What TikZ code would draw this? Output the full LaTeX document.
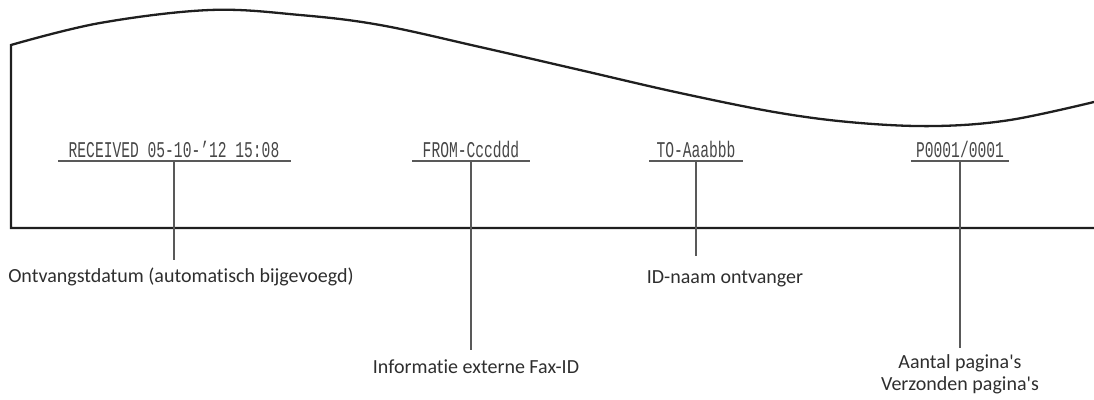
\documentclass[tikz,border=0pt]{standalone}
\usepackage{fontspec}
\setmainfont{Carlito}[Ligatures={TeXOff,CommonOff}]
\newfontfamily\faxmono{Liberation Mono}
\begin{document}
\begin{tikzpicture}[x=1pt,y=-1pt,
  paper/.style={line width=2.3pt, black!88, line join=miter},
  uline/.style={line width=1.2pt, black!65},
  leader/.style={line width=1.2pt, black!65},
  faxtext/.style={inner sep=0pt, anchor=base, text=black!72, font=\faxmono\fontsize{22.5}{22.5}\selectfont},
  lbl/.style={inner sep=0pt, anchor=base, text=black!82, font=\fontsize{20}{22}\selectfont, align=center}
]
\useasboundingbox (0,0) rectangle (1094,399);
% paper outline
\draw[paper] (1094,228) -- (11,228) -- plot[smooth, tension=0.6] coordinates {(11,45) (100,23) (210,10) (300,15) (380,25) (480,47) (580,70) (680,93) (780,113) (860,123) (937,126) (1010,120) (1094,102)};

% header texts
\node[faxtext] (rcv) at (174,157) {\scalebox{0.65}[1]{RECEIVED 05-10-’12 15:08}};
\node[faxtext] (from) at (471,157) {\scalebox{0.65}[1]{FROM-Cccddd}};
\node[faxtext] (to) at (696,157) {\scalebox{0.65}[1]{TO-Aaabbb}};
\node[faxtext] (pg) at (960,157) {\scalebox{0.65}[1]{P0001/0001}};

% underlines
\coordinate (rcvL) at (58,161); \coordinate (rcvR) at (291,161); \coordinate (rcvU) at (174,161);
\coordinate (fromL) at (412,161); \coordinate (fromR) at (530,161); \coordinate (fromU) at (471,161);
\coordinate (toL) at (649,161); \coordinate (toR) at (743,161); \coordinate (toU) at (696,161);
\coordinate (pgL) at (911,161); \coordinate (pgR) at (1009,161); \coordinate (pgU) at (960,161);
\draw[uline] (rcvL) -- (rcvR);
\draw[uline] (fromL) -- (fromR);
\draw[uline] (toL) -- (toR);
\draw[uline] (pgL) -- (pgR);

% labels
\node[lbl] (l1) at (181,282) {Ontvangstdatum (automatisch bijgevoegd)};
\node[lbl] (l2) at (476,373) {Informatie externe Fax-ID};
\node[lbl] (l3) at (725,283) {ID-naam ontvanger};
\node[lbl, anchor=north] (l4) at (960,354) {Aantal pagina's\\Verzonden pagina's};

% leader ends
\coordinate (e1) at (174,260);
\coordinate (e2) at (471,350);
\coordinate (e3) at (696,256);
\coordinate (e4) at (960,348);
\draw[leader] (rcvU) -- (e1);
\draw[leader] (fromU) -- (e2);
\draw[leader] (toU) -- (e3);
\draw[leader] (pgU) -- (e4);
\end{tikzpicture}
\end{document}
